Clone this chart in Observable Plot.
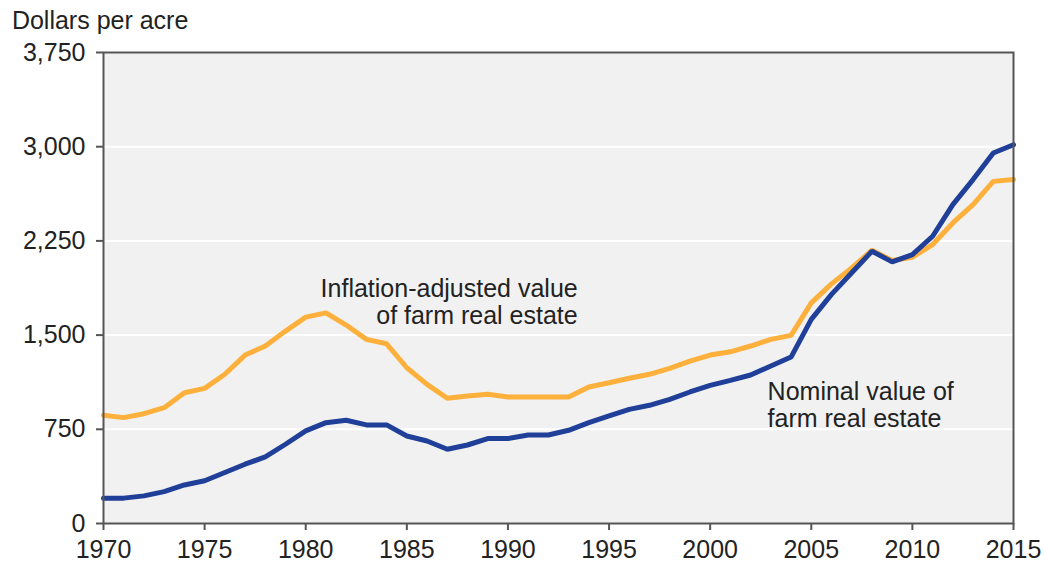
<!DOCTYPE html>
<html>
<head>
<meta charset="utf-8">
<script src="https://cdn.jsdelivr.net/npm/d3@7"></script>
<script src="https://cdn.jsdelivr.net/npm/@observablehq/plot@0.6"></script>
<style>
  html, body { margin: 0; padding: 0; background: #fff; }
  #chart { width: 1045px; height: 564px; }
</style>
</head>
<body>
<div id="chart"></div>
<script>
const years = d3.range(1970, 2016);
const nominal = [
  202, 202, 220, 254, 307, 340, 406, 472, 530, 631,
  737, 803, 822, 785, 785, 697, 657, 591, 625, 676,
  676, 705, 705, 742, 803, 856, 909, 941, 989, 1047,
  1100, 1140, 1182, 1254, 1325, 1625, 1824, 1996, 2168, 2083,
  2141, 2287, 2539, 2738, 2950, 3016
];
const adjusted = [
  862, 843, 874, 922, 1041, 1076, 1188, 1341, 1413, 1532,
  1643, 1677, 1580, 1466, 1431, 1240, 1108, 997, 1015, 1029,
  1007, 1007, 1007, 1007, 1087, 1121, 1156, 1188, 1235, 1293,
  1341, 1367, 1413, 1466, 1498, 1757, 1908, 2035, 2176, 2094,
  2120, 2221, 2393, 2539, 2724, 2738
];
const xTicks = [1970, 1975, 1980, 1985, 1990, 1995, 2000, 2005, 2010, 2015];
const yTicks = [0, 750, 1500, 2250, 3000, 3750];
const gridTicks = [750, 1500, 2250, 3000];
const yTitle = "Dollars per acre";
const adjustedLabel = [{text: "Inflation-adjusted value\nof farm real estate", year: 1993.45, value: 1764}];
const nominalLabel = [{text: "Nominal value of\nfarm real estate", year: 2002.84, value: 948}];

const nominalData = years.map((y, i) => ({year: y, value: nominal[i]}));
const adjustedData = years.map((y, i) => ({year: y, value: adjusted[i]}));

const font = "'Liberation Sans', Arial, Helvetica, sans-serif";
const fs = 25;

const chart = Plot.plot({
  width: 1045,
  height: 564,
  marginLeft: 103,
  marginRight: 32,
  marginTop: 52,
  marginBottom: 41,
  style: {fontFamily: font, fontSize: fs + "px", color: "#222", background: "#fff"},
  x: {domain: [1970, 2015]},
  y: {domain: [0, 3750]},
  marks: [
    Plot.frame({fill: "#f1f1f1"}),
    Plot.gridY(gridTicks, {stroke: "#fff", strokeOpacity: 1, strokeWidth: 2}),
    Plot.line(adjustedData, {x: "year", y: "value", stroke: "#fdb03c", strokeWidth: 5, strokeLinejoin: "miter"}),
    Plot.line(nominalData, {x: "year", y: "value", stroke: "#1f3f98", strokeWidth: 5, strokeLinejoin: "miter"}),
    Plot.frame({stroke: "#555", strokeWidth: 2}),
    Plot.axisX({ticks: xTicks, tickFormat: d => String(d), tickSize: 7, tickPadding: 10, stroke: "#555", strokeWidth: 2, fontSize: fs, fill: "#222", label: null}),
    Plot.axisY({ticks: yTicks, tickFormat: d3.format(","), tickSize: 7, tickPadding: 11, stroke: "#555", strokeWidth: 2, fontSize: fs, fill: "#222", label: null}),
    Plot.text(adjustedLabel, {x: "year", y: "value", text: "text", textAnchor: "end", lineAnchor: "middle", lineHeight: 1.08, fontSize: fs, fill: "#222"}),
    Plot.text(nominalLabel, {x: "year", y: "value", text: "text", textAnchor: "start", lineAnchor: "middle", lineHeight: 1.08, fontSize: fs, fill: "#222"}),
    Plot.text([yTitle], {frameAnchor: "top-left", textAnchor: "start", lineAnchor: "bottom", dx: -91.6, dy: -23.7, fontSize: fs, fill: "#222"})
  ]
});
document.getElementById("chart").appendChild(chart);
</script>
</body>
</html>
